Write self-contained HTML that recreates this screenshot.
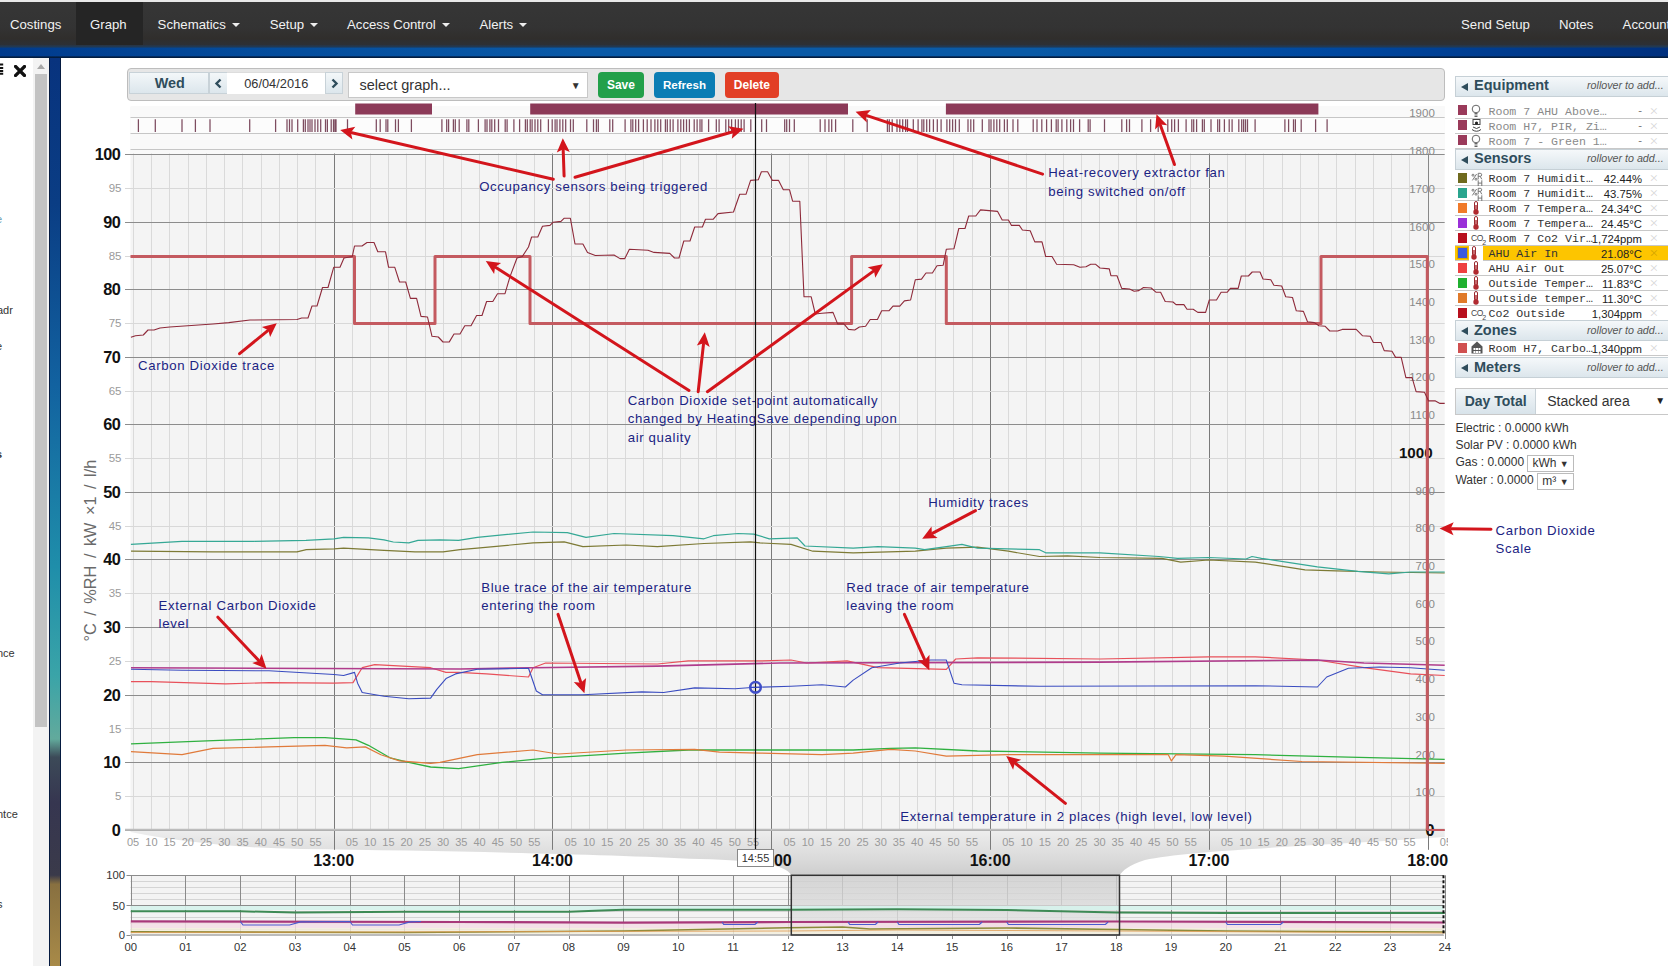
<!DOCTYPE html>
<html><head><meta charset="utf-8">
<style>
*{box-sizing:border-box}
html,body{margin:0;padding:0;width:1668px;height:966px;overflow:hidden;background:#fff;font-family:"Liberation Sans",sans-serif}
.abs{position:absolute}
#top{position:absolute;left:0;top:0;width:1668px;height:2px;background:#e9e9e9}
#nav{position:absolute;left:0;top:2px;width:1668px;height:43px;background:linear-gradient(#363636,#333 60%,#302e2c 85%,#2c3036)}
#nav .it{position:absolute;top:0;height:43px;line-height:45px;color:#f2f2f2;font-size:13.2px;white-space:nowrap}
#nav .act{background:#252525}
.caret{display:inline-block;width:0;height:0;border-left:4px solid transparent;border-right:4px solid transparent;border-top:4px solid #eee;vertical-align:middle;margin-left:6px;margin-top:-2px}
#stripe{position:absolute;left:0;top:45px;width:1668px;height:13px;background:linear-gradient(to bottom,#2a3440 0,#1f3a58 16%,rgba(20,60,110,0) 24%,rgba(0,0,0,0) 84%,#04224c 90%,#001a38 100%),linear-gradient(to right,#003a8c 0,#044c9c 15%,#0a5aa8 35%,#0a5aa6 62%,#0048a0 80%,#00307e 100%)}
#lp{position:absolute;left:0;top:58px;width:33px;height:908px;background:#fff}
#sb{position:absolute;left:33px;top:58px;width:15.5px;height:908px;background:#f3f3f3}
#thumb{position:absolute;left:35px;top:74px;width:12px;height:653px;background:#c3c3c3}
#strip{position:absolute;left:48.5px;top:58px;width:12.5px;height:908px;border-left:1.2px solid #051a40;border-right:1.2px solid #051a40;background:linear-gradient(#08337e 0%,#0a3d84 16%,#1262a0 36%,#1f8eaa 56%,#3aa4a8 68%,#62aa9c 75%,#3c4a58 77%,#363650 82%,#3a3a4a 90%,#887040 91%,#a88a48 100%)}
#main{position:absolute;left:61px;top:58px;width:1607px;height:908px;background:#fff;border-top-left-radius:6px}
.lt{position:absolute;left:0;font-size:11px;color:#333;white-space:nowrap}
#tb{position:absolute;left:126.5px;top:68.3px;width:1318px;height:32.8px;background:#e6e6e6;border:1px solid #bdbdbd;border-radius:4px}
.btn{position:absolute;top:71.5px;height:26.5px;border-radius:4px;color:#fff;font-weight:bold;font-size:12px;text-align:center;line-height:26px}
.gb{position:absolute;top:71.7px;height:22.5px;background:linear-gradient(#f3f7f9,#dce6ec);border:1px solid #c8d2d8;color:#2f4d5c}
svg text{font-family:"Liberation Sans",sans-serif}
.ymaj{font-size:16.3px;font-weight:bold;fill:#111;letter-spacing:-0.6px}
.ymin{font-size:11.5px;fill:#9a9a9a}
.rmin{font-size:11.5px;fill:#8a8a8a}
.ytitle{font-size:16.3px;fill:#6a6a6a}
.xmin{font-size:11px;fill:#9a9a9a}
.xmaj{font-size:16px;font-weight:bold;fill:#111}
.tip{font-size:11px;fill:#333}
.nx{font-size:11.3px;fill:#333}
.ann{font-size:13.2px;letter-spacing:0.65px;fill:#1b2383}
.hdr{position:absolute;left:1455px;width:213px;height:21px;background:linear-gradient(#f5f8fa,#dce6ec);border:1px solid #c6d0d6;border-right:none}
.hdr .tri{position:absolute;left:5px;top:6px;width:0;height:0;border-top:4.5px solid transparent;border-bottom:4.5px solid transparent;border-right:7px solid #2f4d5c}
.hdr .ht{position:absolute;left:18px;top:-0.5px;font-size:14.5px;font-weight:bold;color:#2f4d5c;line-height:18px}
.hdr .ro{position:absolute;left:131px;top:1.8px;font-size:10.7px;font-style:italic;color:#555;line-height:14px}
.row{position:absolute;left:1455px;width:213px;height:15px;border-bottom:1px solid #c8c8c8}
.row .sw{position:absolute;left:2.8px;top:1.8px;width:9.3px;height:9.6px}
.row .ic{position:absolute;left:16px;top:0px;width:14px;height:15px;line-height:0}
.row .nm{position:absolute;left:33.5px;top:1px;font-family:"Liberation Mono",monospace;font-size:11.6px;line-height:14px;color:#333;white-space:nowrap}
.row .vl{position:absolute;right:26px;top:1px;font-size:11.3px;line-height:14px;color:#222;white-space:nowrap}
.row .x{position:absolute;left:194.5px;top:-1px;font-size:15px;line-height:16px;color:rgba(0,0,0,0.14)}
.row.dis .nm{color:#8a8a8a}
.row.dis .vl{color:#777}
.row.hl{background:#fdc500}
.row.hl .sw{outline:1px solid #d8a800}
.row.hl .ic{background:#fff;left:14px;width:14px}
.rh{position:absolute;display:block;font-size:9px;color:#777;line-height:9px;top:2px;left:1px;width:14px;height:13px}
.co2i{display:inline-block;font-size:8.5px;color:#444;line-height:12px;margin-top:1px;letter-spacing:-0.3px;width:15px;white-space:nowrap}
.mt{position:absolute;left:1455.4px;font-size:12px;color:#333;white-space:nowrap}
.sel{position:absolute;height:17px;border:1px solid #bbb;background:#fff;font-size:12px;color:#333;line-height:15px;padding-left:4px;white-space:nowrap}
</style></head><body>
<div id="top"></div>
<div id="nav">
 <div class="it" style="left:10px">Costings</div>
 <div class="it act" style="left:76px;width:67px;padding-left:14px">Graph</div>
 <div class="it" style="left:157.6px">Schematics<span class="caret"></span></div>
 <div class="it" style="left:269.7px">Setup<span class="caret"></span></div>
 <div class="it" style="left:347px">Access Control<span class="caret"></span></div>
 <div class="it" style="left:479.5px">Alerts<span class="caret"></span></div>
 <div class="it" style="left:1461px">Send Setup</div>
 <div class="it" style="left:1559px">Notes</div>
 <div class="it" style="left:1622.6px">Accounts</div>
</div>
<div id="stripe"></div>
<div id="lp">
 <svg style="position:absolute;left:0;top:5px" width="4" height="12" viewBox="0 0 4 12"><path d="M0,1.6H3.2M0,4.9H3.2M0,7.9H3.2M0,10.8H3.2" stroke="#111" stroke-width="2"/></svg>
 <svg style="position:absolute;left:14px;top:7px" width="12" height="12" viewBox="0 0 12 12"><path d="M1.5,1.5 L10.5,10.5 M10.5,1.5 L1.5,10.5" stroke="#111" stroke-width="3.3" stroke-linecap="square"/></svg>
 <div class="lt" style="top:155px;left:-4px;color:#6a9fb5">e</div>
 <div class="lt" style="top:246px;left:-3px">adr</div>
 <div class="lt" style="top:282px;left:-4px">e</div>
 <div class="lt" style="top:390px;left:-4px;font-weight:bold">s</div>
 <div class="lt" style="top:589px;left:-3px">nce</div>
 <div class="lt" style="top:750px;left:-3px">ntce</div>
 <div class="lt" style="top:840px;left:-3px">s</div>
</div>
<div id="sb"><div style="position:absolute;left:4px;top:6px;width:0;height:0;border-left:4.5px solid transparent;border-right:4.5px solid transparent;border-bottom:5px solid #a8a8a8"></div></div>
<div id="thumb"></div>
<div id="strip"></div>
<div id="main"></div>
<div id="tb"></div>
<div class="gb" style="left:129.2px;width:80px;font-weight:bold;font-size:14.4px;text-align:center;line-height:21px;padding-left:1px">Wed</div>
<div class="gb" style="left:209.3px;width:18.5px"><svg width="17" height="21" style="position:absolute;left:0;top:0"><path d="M10.5,6.5 L6.5,10.5 L10.5,14.5" fill="none" stroke="#2f4d5c" stroke-width="2.4"/></svg></div>
<div style="position:absolute;left:227.4px;top:71.7px;width:97.7px;height:22.5px;background:#fff;border-top:1px solid #ddd;font-size:12.8px;color:#333;text-align:center;line-height:21px">06/04/2016</div>
<div class="gb" style="left:325.1px;width:17.5px"><svg width="16" height="21" style="position:absolute;left:0;top:0"><path d="M6.5,6.5 L10.5,10.5 L6.5,14.5" fill="none" stroke="#2f4d5c" stroke-width="2.4"/></svg></div>
<div style="position:absolute;left:348.4px;top:71.7px;width:239.2px;height:26px;background:#fff;border:1px solid #c8c8c8;font-size:14.5px;color:#333;line-height:25px;padding-left:10px">select graph...<span style="position:absolute;right:6px;top:0;font-size:10px">▼</span></div>
<div class="btn" style="left:598.2px;width:45.5px;background:#22a04a">Save</div>
<div class="btn" style="left:654.1px;width:60.8px;background:#0b7db4;font-size:11.6px">Refresh</div>
<div class="btn" style="left:724.9px;width:53.9px;background:#e23f26">Delete</div>
<svg class="abs" style="left:0;top:0" width="1668" height="966" viewBox="0 0 1668 966">
<defs>
<linearGradient id="fun" x1="0" y1="0" x2="0" y2="1">
 <stop offset="0" stop-color="#eeeeee"/><stop offset="0.3" stop-color="#e4e4e4"/><stop offset="0.65" stop-color="#dadada"/><stop offset="1" stop-color="#cecece"/>
</linearGradient>
<linearGradient id="sel" x1="0" y1="0" x2="0" y2="1">
 <stop offset="0" stop-color="#cdcdcd"/><stop offset="1" stop-color="#e6e6e6"/>
</linearGradient>
<clipPath id="xclip" clipPathUnits="userSpaceOnUse"><rect x="100" y="830" width="1348" height="30"/></clipPath>
<marker id="ah" viewBox="0 0 10 10" refX="9" refY="5" markerWidth="5" markerHeight="4.2" orient="auto" markerUnits="strokeWidth">
 <path d="M0,0 L10,5 L0,10 z" fill="#d9141b"/>
</marker>
</defs>
<path d="M130.5,829.8 L1444.7,829.8 L1444.7,837 C1320,846 1190,850 1145,860 C1128,865 1123,871 1119.5,875 L791.3,875 C786,867 772,861 700,859 C600,854 450,851 300,849 C240,848 180,842 130.5,832 Z" fill="url(#fun)"/>
<rect x="130.5" y="106.5" width="1314.2" height="723.3" fill="#f4f4f4"/>
<rect x="130.5" y="106.5" width="1314.2" height="47.5" fill="#f9f9f9"/>
<rect x="130.5" y="117.5" width="1314.2" height="16" fill="#fcfcfc"/>
<line x1="130.5" y1="117.5" x2="1444.7" y2="117.5" stroke="#c6c6c6" stroke-width="1"/>
<line x1="130.5" y1="133.5" x2="1444.7" y2="133.5" stroke="#c6c6c6" stroke-width="1"/>
<line x1="130.5" y1="149.5" x2="1444.7" y2="149.5" stroke="#c6c6c6" stroke-width="1"/>
<line x1="133.5" y1="153.5" x2="133.5" y2="829.8" stroke="#dadada" stroke-width="1"/>
<line x1="151.5" y1="153.5" x2="151.5" y2="829.8" stroke="#dadada" stroke-width="1"/>
<line x1="169.5" y1="153.5" x2="169.5" y2="829.8" stroke="#dadada" stroke-width="1"/>
<line x1="188.5" y1="153.5" x2="188.5" y2="829.8" stroke="#dadada" stroke-width="1"/>
<line x1="206.5" y1="153.5" x2="206.5" y2="829.8" stroke="#dadada" stroke-width="1"/>
<line x1="224.5" y1="153.5" x2="224.5" y2="829.8" stroke="#dadada" stroke-width="1"/>
<line x1="242.5" y1="153.5" x2="242.5" y2="829.8" stroke="#dadada" stroke-width="1"/>
<line x1="261.5" y1="153.5" x2="261.5" y2="829.8" stroke="#dadada" stroke-width="1"/>
<line x1="279.5" y1="153.5" x2="279.5" y2="829.8" stroke="#dadada" stroke-width="1"/>
<line x1="297.5" y1="153.5" x2="297.5" y2="829.8" stroke="#dadada" stroke-width="1"/>
<line x1="315.5" y1="153.5" x2="315.5" y2="829.8" stroke="#dadada" stroke-width="1"/>
<line x1="334.5" y1="153.5" x2="334.5" y2="849.8" stroke="#7a7a7a" stroke-width="1"/>
<line x1="352.5" y1="153.5" x2="352.5" y2="829.8" stroke="#dadada" stroke-width="1"/>
<line x1="370.5" y1="153.5" x2="370.5" y2="829.8" stroke="#dadada" stroke-width="1"/>
<line x1="388.5" y1="153.5" x2="388.5" y2="829.8" stroke="#dadada" stroke-width="1"/>
<line x1="406.5" y1="153.5" x2="406.5" y2="829.8" stroke="#dadada" stroke-width="1"/>
<line x1="425.5" y1="153.5" x2="425.5" y2="829.8" stroke="#dadada" stroke-width="1"/>
<line x1="443.5" y1="153.5" x2="443.5" y2="829.8" stroke="#dadada" stroke-width="1"/>
<line x1="461.5" y1="153.5" x2="461.5" y2="829.8" stroke="#dadada" stroke-width="1"/>
<line x1="479.5" y1="153.5" x2="479.5" y2="829.8" stroke="#dadada" stroke-width="1"/>
<line x1="498.5" y1="153.5" x2="498.5" y2="829.8" stroke="#dadada" stroke-width="1"/>
<line x1="516.5" y1="153.5" x2="516.5" y2="829.8" stroke="#dadada" stroke-width="1"/>
<line x1="534.5" y1="153.5" x2="534.5" y2="829.8" stroke="#dadada" stroke-width="1"/>
<line x1="552.5" y1="153.5" x2="552.5" y2="849.8" stroke="#7a7a7a" stroke-width="1"/>
<line x1="571.5" y1="153.5" x2="571.5" y2="829.8" stroke="#dadada" stroke-width="1"/>
<line x1="589.5" y1="153.5" x2="589.5" y2="829.8" stroke="#dadada" stroke-width="1"/>
<line x1="607.5" y1="153.5" x2="607.5" y2="829.8" stroke="#dadada" stroke-width="1"/>
<line x1="625.5" y1="153.5" x2="625.5" y2="829.8" stroke="#dadada" stroke-width="1"/>
<line x1="643.5" y1="153.5" x2="643.5" y2="829.8" stroke="#dadada" stroke-width="1"/>
<line x1="662.5" y1="153.5" x2="662.5" y2="829.8" stroke="#dadada" stroke-width="1"/>
<line x1="680.5" y1="153.5" x2="680.5" y2="829.8" stroke="#dadada" stroke-width="1"/>
<line x1="698.5" y1="153.5" x2="698.5" y2="829.8" stroke="#dadada" stroke-width="1"/>
<line x1="716.5" y1="153.5" x2="716.5" y2="829.8" stroke="#dadada" stroke-width="1"/>
<line x1="735.5" y1="153.5" x2="735.5" y2="829.8" stroke="#dadada" stroke-width="1"/>
<line x1="753.5" y1="153.5" x2="753.5" y2="829.8" stroke="#dadada" stroke-width="1"/>
<line x1="771.5" y1="153.5" x2="771.5" y2="849.8" stroke="#7a7a7a" stroke-width="1"/>
<line x1="789.5" y1="153.5" x2="789.5" y2="829.8" stroke="#dadada" stroke-width="1"/>
<line x1="808.5" y1="153.5" x2="808.5" y2="829.8" stroke="#dadada" stroke-width="1"/>
<line x1="826.5" y1="153.5" x2="826.5" y2="829.8" stroke="#dadada" stroke-width="1"/>
<line x1="844.5" y1="153.5" x2="844.5" y2="829.8" stroke="#dadada" stroke-width="1"/>
<line x1="862.5" y1="153.5" x2="862.5" y2="829.8" stroke="#dadada" stroke-width="1"/>
<line x1="881.5" y1="153.5" x2="881.5" y2="829.8" stroke="#dadada" stroke-width="1"/>
<line x1="899.5" y1="153.5" x2="899.5" y2="829.8" stroke="#dadada" stroke-width="1"/>
<line x1="917.5" y1="153.5" x2="917.5" y2="829.8" stroke="#dadada" stroke-width="1"/>
<line x1="935.5" y1="153.5" x2="935.5" y2="829.8" stroke="#dadada" stroke-width="1"/>
<line x1="953.5" y1="153.5" x2="953.5" y2="829.8" stroke="#dadada" stroke-width="1"/>
<line x1="972.5" y1="153.5" x2="972.5" y2="829.8" stroke="#dadada" stroke-width="1"/>
<line x1="990.5" y1="153.5" x2="990.5" y2="849.8" stroke="#7a7a7a" stroke-width="1"/>
<line x1="1008.5" y1="153.5" x2="1008.5" y2="829.8" stroke="#dadada" stroke-width="1"/>
<line x1="1026.5" y1="153.5" x2="1026.5" y2="829.8" stroke="#dadada" stroke-width="1"/>
<line x1="1045.5" y1="153.5" x2="1045.5" y2="829.8" stroke="#dadada" stroke-width="1"/>
<line x1="1063.5" y1="153.5" x2="1063.5" y2="829.8" stroke="#dadada" stroke-width="1"/>
<line x1="1081.5" y1="153.5" x2="1081.5" y2="829.8" stroke="#dadada" stroke-width="1"/>
<line x1="1099.5" y1="153.5" x2="1099.5" y2="829.8" stroke="#dadada" stroke-width="1"/>
<line x1="1118.5" y1="153.5" x2="1118.5" y2="829.8" stroke="#dadada" stroke-width="1"/>
<line x1="1136.5" y1="153.5" x2="1136.5" y2="829.8" stroke="#dadada" stroke-width="1"/>
<line x1="1154.5" y1="153.5" x2="1154.5" y2="829.8" stroke="#dadada" stroke-width="1"/>
<line x1="1172.5" y1="153.5" x2="1172.5" y2="829.8" stroke="#dadada" stroke-width="1"/>
<line x1="1190.5" y1="153.5" x2="1190.5" y2="829.8" stroke="#dadada" stroke-width="1"/>
<line x1="1209.5" y1="153.5" x2="1209.5" y2="849.8" stroke="#7a7a7a" stroke-width="1"/>
<line x1="1227.5" y1="153.5" x2="1227.5" y2="829.8" stroke="#dadada" stroke-width="1"/>
<line x1="1245.5" y1="153.5" x2="1245.5" y2="829.8" stroke="#dadada" stroke-width="1"/>
<line x1="1263.5" y1="153.5" x2="1263.5" y2="829.8" stroke="#dadada" stroke-width="1"/>
<line x1="1282.5" y1="153.5" x2="1282.5" y2="829.8" stroke="#dadada" stroke-width="1"/>
<line x1="1300.5" y1="153.5" x2="1300.5" y2="829.8" stroke="#dadada" stroke-width="1"/>
<line x1="1318.5" y1="153.5" x2="1318.5" y2="829.8" stroke="#dadada" stroke-width="1"/>
<line x1="1336.5" y1="153.5" x2="1336.5" y2="829.8" stroke="#dadada" stroke-width="1"/>
<line x1="1355.5" y1="153.5" x2="1355.5" y2="829.8" stroke="#dadada" stroke-width="1"/>
<line x1="1373.5" y1="153.5" x2="1373.5" y2="829.8" stroke="#dadada" stroke-width="1"/>
<line x1="1391.5" y1="153.5" x2="1391.5" y2="829.8" stroke="#dadada" stroke-width="1"/>
<line x1="1409.5" y1="153.5" x2="1409.5" y2="829.8" stroke="#dadada" stroke-width="1"/>
<line x1="1428.5" y1="153.5" x2="1428.5" y2="849.8" stroke="#7a7a7a" stroke-width="1"/>
<line x1="125" y1="830.5" x2="1444.7" y2="830.5" stroke="#8c8c8c" stroke-width="1"/>
<line x1="125" y1="796.5" x2="1444.7" y2="796.5" stroke="#d8d8d8" stroke-width="1"/>
<line x1="125" y1="762.5" x2="1444.7" y2="762.5" stroke="#8c8c8c" stroke-width="1"/>
<line x1="125" y1="728.5" x2="1444.7" y2="728.5" stroke="#d8d8d8" stroke-width="1"/>
<line x1="125" y1="695.5" x2="1444.7" y2="695.5" stroke="#8c8c8c" stroke-width="1"/>
<line x1="125" y1="661.5" x2="1444.7" y2="661.5" stroke="#d8d8d8" stroke-width="1"/>
<line x1="125" y1="627.5" x2="1444.7" y2="627.5" stroke="#8c8c8c" stroke-width="1"/>
<line x1="125" y1="593.5" x2="1444.7" y2="593.5" stroke="#d8d8d8" stroke-width="1"/>
<line x1="125" y1="559.5" x2="1444.7" y2="559.5" stroke="#8c8c8c" stroke-width="1"/>
<line x1="125" y1="526.5" x2="1444.7" y2="526.5" stroke="#d8d8d8" stroke-width="1"/>
<line x1="125" y1="492.5" x2="1444.7" y2="492.5" stroke="#8c8c8c" stroke-width="1"/>
<line x1="125" y1="458.5" x2="1444.7" y2="458.5" stroke="#d8d8d8" stroke-width="1"/>
<line x1="125" y1="424.5" x2="1444.7" y2="424.5" stroke="#8c8c8c" stroke-width="1"/>
<line x1="125" y1="391.5" x2="1444.7" y2="391.5" stroke="#d8d8d8" stroke-width="1"/>
<line x1="125" y1="357.5" x2="1444.7" y2="357.5" stroke="#8c8c8c" stroke-width="1"/>
<line x1="125" y1="323.5" x2="1444.7" y2="323.5" stroke="#d8d8d8" stroke-width="1"/>
<line x1="125" y1="289.5" x2="1444.7" y2="289.5" stroke="#8c8c8c" stroke-width="1"/>
<line x1="125" y1="256.5" x2="1444.7" y2="256.5" stroke="#d8d8d8" stroke-width="1"/>
<line x1="125" y1="222.5" x2="1444.7" y2="222.5" stroke="#8c8c8c" stroke-width="1"/>
<line x1="125" y1="188.5" x2="1444.7" y2="188.5" stroke="#d8d8d8" stroke-width="1"/>
<line x1="125" y1="154.5" x2="1444.7" y2="154.5" stroke="#8c8c8c" stroke-width="1"/>
<line x1="125" y1="829.8" x2="1444.7" y2="829.8" stroke="#bdbdbd" stroke-width="2"/>
<line x1="1428.5" y1="154" x2="1428.5" y2="829.8" stroke="#888" stroke-width="1"/>
<text x="120.1" y="835.6" text-anchor="end" class="ymaj">0</text>
<text x="121.5" y="800.0" text-anchor="end" class="ymin">5</text>
<text x="120.1" y="768.1" text-anchor="end" class="ymaj">10</text>
<text x="121.5" y="732.5" text-anchor="end" class="ymin">15</text>
<text x="120.1" y="700.5" text-anchor="end" class="ymaj">20</text>
<text x="121.5" y="664.9" text-anchor="end" class="ymin">25</text>
<text x="120.1" y="633.0" text-anchor="end" class="ymaj">30</text>
<text x="121.5" y="597.4" text-anchor="end" class="ymin">35</text>
<text x="120.1" y="565.4" text-anchor="end" class="ymaj">40</text>
<text x="121.5" y="529.9" text-anchor="end" class="ymin">45</text>
<text x="120.1" y="497.9" text-anchor="end" class="ymaj">50</text>
<text x="121.5" y="462.3" text-anchor="end" class="ymin">55</text>
<text x="120.1" y="430.4" text-anchor="end" class="ymaj">60</text>
<text x="121.5" y="394.8" text-anchor="end" class="ymin">65</text>
<text x="120.1" y="362.8" text-anchor="end" class="ymaj">70</text>
<text x="121.5" y="327.2" text-anchor="end" class="ymin">75</text>
<text x="120.1" y="295.3" text-anchor="end" class="ymaj">80</text>
<text x="121.5" y="259.7" text-anchor="end" class="ymin">85</text>
<text x="120.1" y="227.7" text-anchor="end" class="ymaj">90</text>
<text x="121.5" y="192.2" text-anchor="end" class="ymin">95</text>
<text x="120.1" y="160.2" text-anchor="end" class="ymaj">100</text>
<text transform="translate(95.5,550.6) rotate(-90)" text-anchor="middle" class="ytitle" style="word-spacing:3px">°C / %RH / kW ×1 / l/h</text>
<text x="1434.8" y="796.3" text-anchor="end" class="rmin">100</text>
<text x="1434.8" y="758.6" text-anchor="end" class="rmin">200</text>
<text x="1434.8" y="720.8" text-anchor="end" class="rmin">300</text>
<text x="1434.8" y="683.1" text-anchor="end" class="rmin">400</text>
<text x="1434.8" y="645.4" text-anchor="end" class="rmin">500</text>
<text x="1434.8" y="607.7" text-anchor="end" class="rmin">600</text>
<text x="1434.8" y="570.0" text-anchor="end" class="rmin">700</text>
<text x="1434.8" y="532.2" text-anchor="end" class="rmin">800</text>
<text x="1434.8" y="494.5" text-anchor="end" class="rmin">900</text>
<text x="1432.7" y="458.4" text-anchor="end" class="ymaj" style="font-size:15.2px;letter-spacing:0">1000</text>
<text x="1434.8" y="419.1" text-anchor="end" class="rmin">1100</text>
<text x="1434.8" y="381.4" text-anchor="end" class="rmin">1200</text>
<text x="1434.8" y="343.6" text-anchor="end" class="rmin">1300</text>
<text x="1434.8" y="305.9" text-anchor="end" class="rmin">1400</text>
<text x="1434.8" y="268.2" text-anchor="end" class="rmin">1500</text>
<text x="1434.8" y="230.5" text-anchor="end" class="rmin">1600</text>
<text x="1434.8" y="192.8" text-anchor="end" class="rmin">1700</text>
<text x="1434.8" y="155.0" text-anchor="end" class="rmin">1800</text>
<text x="1434.8" y="117.3" text-anchor="end" class="rmin">1900</text>
<text x="1434" y="836" text-anchor="end" class="ymaj">0</text>
<text x="133.1" y="845.8" text-anchor="middle" class="xmin" clip-path="url(#xclip)">05</text>
<text x="151.4" y="845.8" text-anchor="middle" class="xmin" clip-path="url(#xclip)">10</text>
<text x="169.6" y="845.8" text-anchor="middle" class="xmin" clip-path="url(#xclip)">15</text>
<text x="187.8" y="845.8" text-anchor="middle" class="xmin" clip-path="url(#xclip)">20</text>
<text x="206.1" y="845.8" text-anchor="middle" class="xmin" clip-path="url(#xclip)">25</text>
<text x="224.3" y="845.8" text-anchor="middle" class="xmin" clip-path="url(#xclip)">30</text>
<text x="242.5" y="845.8" text-anchor="middle" class="xmin" clip-path="url(#xclip)">35</text>
<text x="260.8" y="845.8" text-anchor="middle" class="xmin" clip-path="url(#xclip)">40</text>
<text x="279.0" y="845.8" text-anchor="middle" class="xmin" clip-path="url(#xclip)">45</text>
<text x="297.2" y="845.8" text-anchor="middle" class="xmin" clip-path="url(#xclip)">50</text>
<text x="315.5" y="845.8" text-anchor="middle" class="xmin" clip-path="url(#xclip)">55</text>
<text x="351.9" y="845.8" text-anchor="middle" class="xmin" clip-path="url(#xclip)">05</text>
<text x="370.2" y="845.8" text-anchor="middle" class="xmin" clip-path="url(#xclip)">10</text>
<text x="388.4" y="845.8" text-anchor="middle" class="xmin" clip-path="url(#xclip)">15</text>
<text x="406.6" y="845.8" text-anchor="middle" class="xmin" clip-path="url(#xclip)">20</text>
<text x="424.9" y="845.8" text-anchor="middle" class="xmin" clip-path="url(#xclip)">25</text>
<text x="443.1" y="845.8" text-anchor="middle" class="xmin" clip-path="url(#xclip)">30</text>
<text x="461.3" y="845.8" text-anchor="middle" class="xmin" clip-path="url(#xclip)">35</text>
<text x="479.6" y="845.8" text-anchor="middle" class="xmin" clip-path="url(#xclip)">40</text>
<text x="497.8" y="845.8" text-anchor="middle" class="xmin" clip-path="url(#xclip)">45</text>
<text x="516.0" y="845.8" text-anchor="middle" class="xmin" clip-path="url(#xclip)">50</text>
<text x="534.3" y="845.8" text-anchor="middle" class="xmin" clip-path="url(#xclip)">55</text>
<text x="570.7" y="845.8" text-anchor="middle" class="xmin" clip-path="url(#xclip)">05</text>
<text x="589.0" y="845.8" text-anchor="middle" class="xmin" clip-path="url(#xclip)">10</text>
<text x="607.2" y="845.8" text-anchor="middle" class="xmin" clip-path="url(#xclip)">15</text>
<text x="625.4" y="845.8" text-anchor="middle" class="xmin" clip-path="url(#xclip)">20</text>
<text x="643.7" y="845.8" text-anchor="middle" class="xmin" clip-path="url(#xclip)">25</text>
<text x="661.9" y="845.8" text-anchor="middle" class="xmin" clip-path="url(#xclip)">30</text>
<text x="680.1" y="845.8" text-anchor="middle" class="xmin" clip-path="url(#xclip)">35</text>
<text x="698.4" y="845.8" text-anchor="middle" class="xmin" clip-path="url(#xclip)">40</text>
<text x="716.6" y="845.8" text-anchor="middle" class="xmin" clip-path="url(#xclip)">45</text>
<text x="734.8" y="845.8" text-anchor="middle" class="xmin" clip-path="url(#xclip)">50</text>
<text x="753.1" y="845.8" text-anchor="middle" class="xmin" clip-path="url(#xclip)">55</text>
<text x="789.5" y="845.8" text-anchor="middle" class="xmin" clip-path="url(#xclip)">05</text>
<text x="807.8" y="845.8" text-anchor="middle" class="xmin" clip-path="url(#xclip)">10</text>
<text x="826.0" y="845.8" text-anchor="middle" class="xmin" clip-path="url(#xclip)">15</text>
<text x="844.2" y="845.8" text-anchor="middle" class="xmin" clip-path="url(#xclip)">20</text>
<text x="862.5" y="845.8" text-anchor="middle" class="xmin" clip-path="url(#xclip)">25</text>
<text x="880.7" y="845.8" text-anchor="middle" class="xmin" clip-path="url(#xclip)">30</text>
<text x="898.9" y="845.8" text-anchor="middle" class="xmin" clip-path="url(#xclip)">35</text>
<text x="917.2" y="845.8" text-anchor="middle" class="xmin" clip-path="url(#xclip)">40</text>
<text x="935.4" y="845.8" text-anchor="middle" class="xmin" clip-path="url(#xclip)">45</text>
<text x="953.6" y="845.8" text-anchor="middle" class="xmin" clip-path="url(#xclip)">50</text>
<text x="971.9" y="845.8" text-anchor="middle" class="xmin" clip-path="url(#xclip)">55</text>
<text x="1008.3" y="845.8" text-anchor="middle" class="xmin" clip-path="url(#xclip)">05</text>
<text x="1026.6" y="845.8" text-anchor="middle" class="xmin" clip-path="url(#xclip)">10</text>
<text x="1044.8" y="845.8" text-anchor="middle" class="xmin" clip-path="url(#xclip)">15</text>
<text x="1063.0" y="845.8" text-anchor="middle" class="xmin" clip-path="url(#xclip)">20</text>
<text x="1081.3" y="845.8" text-anchor="middle" class="xmin" clip-path="url(#xclip)">25</text>
<text x="1099.5" y="845.8" text-anchor="middle" class="xmin" clip-path="url(#xclip)">30</text>
<text x="1117.7" y="845.8" text-anchor="middle" class="xmin" clip-path="url(#xclip)">35</text>
<text x="1136.0" y="845.8" text-anchor="middle" class="xmin" clip-path="url(#xclip)">40</text>
<text x="1154.2" y="845.8" text-anchor="middle" class="xmin" clip-path="url(#xclip)">45</text>
<text x="1172.4" y="845.8" text-anchor="middle" class="xmin" clip-path="url(#xclip)">50</text>
<text x="1190.7" y="845.8" text-anchor="middle" class="xmin" clip-path="url(#xclip)">55</text>
<text x="1227.1" y="845.8" text-anchor="middle" class="xmin" clip-path="url(#xclip)">05</text>
<text x="1245.4" y="845.8" text-anchor="middle" class="xmin" clip-path="url(#xclip)">10</text>
<text x="1263.6" y="845.8" text-anchor="middle" class="xmin" clip-path="url(#xclip)">15</text>
<text x="1281.8" y="845.8" text-anchor="middle" class="xmin" clip-path="url(#xclip)">20</text>
<text x="1300.1" y="845.8" text-anchor="middle" class="xmin" clip-path="url(#xclip)">25</text>
<text x="1318.3" y="845.8" text-anchor="middle" class="xmin" clip-path="url(#xclip)">30</text>
<text x="1336.5" y="845.8" text-anchor="middle" class="xmin" clip-path="url(#xclip)">35</text>
<text x="1354.8" y="845.8" text-anchor="middle" class="xmin" clip-path="url(#xclip)">40</text>
<text x="1373.0" y="845.8" text-anchor="middle" class="xmin" clip-path="url(#xclip)">45</text>
<text x="1391.2" y="845.8" text-anchor="middle" class="xmin" clip-path="url(#xclip)">50</text>
<text x="1409.5" y="845.8" text-anchor="middle" class="xmin" clip-path="url(#xclip)">55</text>
<text x="1445.9" y="845.8" text-anchor="middle" class="xmin" clip-path="url(#xclip)">05</text>
<text x="333.7" y="865.6" text-anchor="middle" class="xmaj">13:00</text>
<text x="552.5" y="865.6" text-anchor="middle" class="xmaj">14:00</text>
<text x="771.3" y="865.6" text-anchor="middle" class="xmaj">15:00</text>
<text x="990.1" y="865.6" text-anchor="middle" class="xmaj">16:00</text>
<text x="1208.9" y="865.6" text-anchor="middle" class="xmaj">17:00</text>
<text x="1427.7" y="865.6" text-anchor="middle" class="xmaj">18:00</text>
<rect x="355.2" y="103.5" width="76.8" height="11" fill="#8c3a58"/>
<rect x="530.2" y="103.5" width="317.8" height="11" fill="#8c3a58"/>
<rect x="945.9" y="103.5" width="372.5" height="11" fill="#8c3a58"/>
<path d="M138.4,119.3V132 M155.3,119.3V132 M182.0,119.3V132 M195.4,119.3V132 M210.0,119.3V132 M249.7,119.3V132 M275.6,119.3V132 M287.0,119.3V132 M289.5,119.3V132 M292.0,119.3V132 M297.7,119.3V132 M303.4,119.3V132 M305.3,119.3V132 M308.0,119.3V132 M310.0,119.3V132 M312.0,119.3V132 M315.0,119.3V132 M317.8,119.3V132 M320.7,119.3V132 M325.5,119.3V132 M327.4,119.3V132 M331.2,119.3V132 M333.5,119.3V132 M335.0,119.3V132 M336.0,119.3V132 M347.5,119.3V132 M376.3,119.3V132 M380.2,119.3V132 M386.0,119.3V132 M387.8,119.3V132 M395.5,119.3V132 M398.4,119.3V132 M411.4,119.3V132 M441.9,119.3V132 M446.7,119.3V132 M448.6,119.3V132 M453.4,119.3V132 M455.3,119.3V132 M459.2,119.3V132 M466.9,119.3V132 M468.8,119.3V132 M478.4,119.3V132 M485.1,119.3V132 M487.0,119.3V132 M489.9,119.3V132 M491.8,119.3V132 M494.7,119.3V132 M498.5,119.3V132 M505.2,119.3V132 M507.1,119.3V132 M513.9,119.3V132 M519.6,119.3V132 M525.4,119.3V132 M527.3,119.3V132 M530.2,119.3V132 M532.1,119.3V132 M535.0,119.3V132 M537.8,119.3V132 M540.7,119.3V132 M548.4,119.3V132 M552.2,119.3V132 M555.1,119.3V132 M557.0,119.3V132 M559.9,119.3V132 M562.8,119.3V132 M565.7,119.3V132 M570.5,119.3V132 M573.3,119.3V132 M586.8,119.3V132 M593.5,119.3V132 M596.4,119.3V132 M598.3,119.3V132 M609.8,119.3V132 M612.7,119.3V132 M625.1,119.3V132 M630.9,119.3V132 M632.8,119.3V132 M635.7,119.3V132 M638.6,119.3V132 M643.4,119.3V132 M647.2,119.3V132 M651.0,119.3V132 M654.9,119.3V132 M657.8,119.3V132 M660.7,119.3V132 M665.4,119.3V132 M667.3,119.3V132 M670.2,119.3V132 M673.1,119.3V132 M677.9,119.3V132 M680.8,119.3V132 M683.6,119.3V132 M686.5,119.3V132 M689.4,119.3V132 M694.2,119.3V132 M697.1,119.3V132 M700.0,119.3V132 M701.9,119.3V132 M708.6,119.3V132 M716.3,119.3V132 M719.1,119.3V132 M725.8,119.3V132 M728.7,119.3V132 M731.6,119.3V132 M735.4,119.3V132 M738.3,119.3V132 M741.2,119.3V132 M744.1,119.3V132 M750.8,119.3V132 M761.7,119.3V132 M766.5,119.3V132 M784.7,119.3V132 M786.7,119.3V132 M789.5,119.3V132 M794.3,119.3V132 M820.2,119.3V132 M825.0,119.3V132 M828.9,119.3V132 M831.7,119.3V132 M835.6,119.3V132 M852.8,119.3V132 M867.2,119.3V132 M887.4,119.3V132 M889.3,119.3V132 M892.2,119.3V132 M897.0,119.3V132 M899.8,119.3V132 M902.7,119.3V132 M905.6,119.3V132 M907.5,119.3V132 M913.3,119.3V132 M918.1,119.3V132 M921.9,119.3V132 M923.8,119.3V132 M926.7,119.3V132 M929.6,119.3V132 M933.4,119.3V132 M937.3,119.3V132 M941.1,119.3V132 M946.9,119.3V132 M949.7,119.3V132 M952.6,119.3V132 M955.5,119.3V132 M959.3,119.3V132 M968.0,119.3V132 M970.8,119.3V132 M973.7,119.3V132 M982.3,119.3V132 M989.0,119.3V132 M991.0,119.3V132 M993.9,119.3V132 M996.8,119.3V132 M999.7,119.3V132 M1004.4,119.3V132 M1007.3,119.3V132 M1013.0,119.3V132 M1017.8,119.3V132 M1033.2,119.3V132 M1037.0,119.3V132 M1041.8,119.3V132 M1046.6,119.3V132 M1051.4,119.3V132 M1056.2,119.3V132 M1058.1,119.3V132 M1061.9,119.3V132 M1066.8,119.3V132 M1070.6,119.3V132 M1073.5,119.3V132 M1079.6,119.3V132 M1088.2,119.3V132 M1090.1,119.3V132 M1104.5,119.3V132 M1121.8,119.3V132 M1126.6,119.3V132 M1129.5,119.3V132 M1141.9,119.3V132 M1150.6,119.3V132 M1158.2,119.3V132 M1167.8,119.3V132 M1171.7,119.3V132 M1174.6,119.3V132 M1178.4,119.3V132 M1186.1,119.3V132 M1191.8,119.3V132 M1193.7,119.3V132 M1196.6,119.3V132 M1202.4,119.3V132 M1204.3,119.3V132 M1211.0,119.3V132 M1217.7,119.3V132 M1219.6,119.3V132 M1224.4,119.3V132 M1229.2,119.3V132 M1232.1,119.3V132 M1238.8,119.3V132 M1241.7,119.3V132 M1243.6,119.3V132 M1245.5,119.3V132 M1247.5,119.3V132 M1255.1,119.3V132 M1284.9,119.3V132 M1288.6,119.3V132 M1293.5,119.3V132 M1295.4,119.3V132 M1301.2,119.3V132 M1315.6,119.3V132 M1327.1,119.3V132" stroke="#70394f" stroke-width="1.25" opacity="0.9"/>
<g fill="none" stroke-linejoin="round">
<polyline points="131.0,551.2 213.0,551.9 297.0,551.9 306.3,549.7 334.0,548.8 343.6,548.1 384.0,550.3 415.0,551.9 443.0,551.9 460.0,549.7 477.3,548.1 533.0,542.9 564.2,541.9 582.9,546.6 626.3,545.0 657.4,546.6 704.0,543.5 750.6,541.9 760.0,542.9 791.0,544.4 812.8,551.2 853.2,552.8 915.3,551.2 946.3,548.1 977.4,547.2 1008.4,551.2 1039.5,556.5 1067.5,555.9 1100.0,557.5 1162.0,558.4 1180.7,562.1 1208.7,560.0 1255.3,562.1 1305.0,569.9 1336.0,570.8 1379.5,572.0 1444.7,573.0" stroke="#7d7a35" stroke-width="1.2"/>
<polyline points="130.9,544.4 182.0,541.3 253.5,541.3 306.0,540.4 334.0,538.8 343.6,537.3 368.4,537.9 384.0,539.8 393.3,542.0 408.8,542.9 418.0,540.4 440.0,539.8 458.6,540.4 477.3,537.3 533.0,532.0 567.3,532.6 586.0,537.3 614.0,533.5 673.0,535.7 704.0,538.8 713.3,535.7 738.0,533.5 753.7,534.2 769.3,538.8 797.3,537.9 805.0,546.0 853.2,548.1 878.0,546.6 915.3,548.1 924.6,549.7 946.3,546.6 961.9,544.4 977.4,548.1 1039.5,549.7 1045.7,552.8 1100.0,552.8 1159.0,556.5 1177.6,558.4 1208.7,557.5 1246.0,559.0 1252.0,556.5 1261.5,558.4 1317.4,566.8 1357.8,571.4 1388.8,573.9 1410.6,572.0 1444.7,572.0" stroke="#35a895" stroke-width="1.2"/>
<polyline points="131.0,743.8 213.0,740.7 294.0,737.6 325.0,737.6 356.0,739.8 368.4,745.3 390.0,757.8 408.8,762.4 430.6,767.0 458.6,768.6 502.0,762.4 548.7,757.8 626.3,753.1 688.4,750.0 853.2,750.0 890.4,748.4 915.3,747.8 977.4,751.0 1100.0,753.1 1255.3,754.7 1348.4,757.1 1444.7,759.3" stroke="#2fb040" stroke-width="1.3"/>
<polyline points="131.0,751.6 182.0,754.7 213.0,748.4 269.0,746.9 325.0,745.3 346.7,747.8 365.3,746.9 380.9,754.7 399.5,760.9 430.6,763.4 440.0,762.4 477.3,754.7 533.0,750.0 558.0,754.0 626.3,750.0 694.7,749.4 719.5,752.2 760.0,753.1 822.0,754.7 853.2,753.1 890.4,749.4 915.3,751.0 946.3,756.2 1008.4,754.7 1100.0,754.7 1168.3,754.7 1171.4,760.9 1176.0,754.7 1224.2,756.2 1301.9,761.5 1444.7,763.4" stroke="#e07a3a" stroke-width="1.2"/>
<polyline points="131.0,681.7 151.0,681.7 225.6,683.9 269.0,682.6 334.0,683.2 353.0,682.6 362.2,667.7 374.7,664.6 430.6,667.7 446.0,672.4 458.6,672.4 486.6,673.9 528.5,677.0 533.0,667.7 545.6,663.0 657.4,664.0 688.4,660.9 760.0,660.9 791.0,660.0 806.6,663.0 847.0,660.9 878.0,667.7 946.3,669.3 955.7,659.0 977.4,657.8 1100.0,659.0 1208.7,656.8 1255.3,656.8 1317.4,660.0 1364.0,667.7 1410.6,673.9 1444.7,675.5" stroke="#e8505a" stroke-width="1.2"/>
<polyline points="131.0,667.7 460.0,669.0 533.0,667.7 657.4,666.1 780.0,663.0 1100.0,662.1 1317.4,660.0 1364.0,663.0 1444.7,665.2" stroke="#b03c8c" stroke-width="1.6"/>
<polyline points="131.0,669.3 182.0,670.2 269.0,670.8 334.0,674.5 343.6,675.5 354.5,672.4 357.6,683.2 362.2,692.5 384.0,696.3 408.8,698.8 430.6,698.1 436.8,689.4 446.0,678.6 455.5,673.9 477.3,669.3 528.5,668.3 536.3,691.0 542.5,694.7 582.9,694.7 641.9,691.9 663.6,692.5 694.7,687.9 735.0,688.8 755.2,687.3 791.0,686.3 822.0,684.8 845.4,687.0 853.2,680.1 871.8,667.7 899.8,663.0 930.8,660.0 946.3,660.0 954.0,683.2 961.9,684.8 1039.5,686.3 1255.3,685.7 1317.4,687.0 1326.7,677.0 1348.4,668.3 1379.5,667.0 1410.6,667.7 1444.7,670.2" stroke="#3a4cc0" stroke-width="1.1"/>
<polyline points="130.5,256.4 354.5,256.4 354.5,323.4 435.0,323.4 435.0,256.4 530.0,256.4 530.0,323.4 851.6,323.4 851.6,256.4 946.3,256.4 946.3,323.4 1321.0,323.4 1321.0,256.4 1427.3,256.4 1427.3,830.0" stroke="#c45a60" stroke-width="3"/>
<polyline points="130.9,337.2 135.5,335.7 143.3,335.0 148.0,330.0 154.0,330.0 160.0,328.0 169.7,327.0 213.0,324.0 228.7,322.6 250.0,320.0 297.0,319.5 301.7,318.0 308.0,318.0 312.0,306.0 317.0,306.0 322.5,287.5 328.0,287.5 333.7,267.3 340.0,267.3 344.0,258.0 352.3,256.5 354.5,246.0 362.0,246.0 367.0,242.5 374.0,242.5 377.8,251.8 385.5,251.8 388.6,267.3 394.8,267.3 399.5,282.0 405.7,282.0 410.4,298.4 416.6,298.4 421.0,316.4 427.5,317.0 432.0,336.3 438.3,337.0 443.0,342.0 449.3,341.9 454.0,334.0 460.0,334.0 464.8,325.7 471.0,325.7 476.6,315.5 482.0,315.5 486.6,301.5 492.8,301.5 497.5,293.7 505.0,293.7 510.0,276.6 517.0,258.0 522.3,256.5 528.5,247.0 531.6,237.0 537.8,237.0 542.5,226.3 550.0,225.4 553.0,222.3 561.0,221.4 564.0,218.3 570.4,218.3 575.0,244.0 582.9,244.0 587.5,252.4 595.3,255.5 614.0,255.0 620.0,258.6 624.8,258.6 629.4,249.3 648.0,250.2 654.0,252.4 669.8,253.4 674.5,258.0 679.0,258.0 683.8,241.0 690.0,241.0 694.7,227.0 702.4,227.0 705.5,219.2 713.3,219.2 718.0,213.6 733.5,212.0 739.7,194.3 746.0,194.3 750.6,180.4 758.3,179.8 761.4,171.7 767.6,171.7 772.4,180.4 778.6,180.4 783.3,189.7 789.5,189.7 792.6,201.2 799.8,201.2 804.0,296.8 811.2,296.8 815.3,314.0 822.0,313.3 833.0,312.4 837.6,323.9 843.9,323.9 848.5,329.4 854.7,330.0 859.4,327.0 865.6,326.3 870.2,319.5 877.4,319.5 881.7,310.8 888.9,310.8 893.0,306.1 899.8,306.1 904.4,300.9 910.6,300.0 915.3,279.8 921.5,279.1 926.0,273.0 932.4,273.0 937.0,265.8 943.2,265.2 946.3,249.3 954.0,248.7 958.8,228.5 965.0,228.5 968.7,216.0 975.8,216.0 980.5,209.9 997.6,211.4 1002.2,220.0 1008.4,220.0 1011.5,225.4 1019.3,225.4 1022.4,230.0 1030.2,230.7 1034.8,241.9 1042.0,241.9 1045.7,256.5 1052.0,256.5 1056.6,264.2 1073.7,264.8 1079.9,267.3 1086.0,266.7 1090.7,264.2 1095.4,264.2 1100.0,268.0 1109.3,268.9 1110.9,275.7 1117.0,275.7 1121.7,288.4 1129.5,289.0 1134.2,291.2 1138.8,290.6 1143.5,287.5 1151.2,288.0 1155.9,292.2 1160.6,292.2 1165.2,301.5 1173.0,302.0 1176.0,304.6 1183.9,304.6 1187.0,309.3 1193.2,309.3 1197.8,312.4 1205.6,312.4 1209.3,300.0 1216.5,300.0 1221.1,292.2 1227.3,292.2 1230.4,288.4 1238.2,288.4 1241.3,276.0 1248.4,276.0 1252.2,272.0 1260.0,272.0 1263.0,279.0 1270.8,279.8 1273.9,285.3 1281.7,286.0 1285.7,296.8 1292.5,297.5 1296.3,310.8 1303.4,311.4 1307.5,321.7 1314.3,322.6 1319.0,325.7 1325.2,326.3 1329.8,331.0 1337.6,331.0 1342.2,329.4 1356.2,329.4 1362.4,335.7 1370.2,336.3 1373.3,342.5 1381.0,342.5 1384.2,350.6 1392.0,351.2 1395.6,357.4 1401.2,357.4 1405.9,377.6 1412.1,377.6 1416.1,391.6 1424.5,392.2 1428.6,400.9 1435.4,400.9 1440.0,403.4 1444.7,403.4" stroke="#8e2a3a" stroke-width="1.1"/>
</g>
<line x1="1427" y1="830" x2="1444.7" y2="830" stroke="#c45a60" stroke-width="2"/>
<line x1="755.5" y1="103" x2="755.5" y2="849" stroke="#111" stroke-width="1.2"/>
<circle cx="755.5" cy="687.3" r="5.3" fill="none" stroke="#4150c8" stroke-width="2.6"/>
<line x1="750" y1="687.3" x2="761" y2="687.3" stroke="#3347c8" stroke-width="1"/>
<rect x="737.5" y="849.5" width="36" height="17" fill="#fff" stroke="#888" stroke-width="1"/>
<text x="755.5" y="861.5" text-anchor="middle" class="tip">14:55</text>
<rect x="130.5" y="875.3" width="1313.0" height="59.700000000000045" fill="#f3f3f3"/>
<line x1="126.5" y1="935.5" x2="1443.5" y2="935.5" stroke="#8c8c8c" stroke-width="1"/>
<line x1="130.5" y1="929.5" x2="1443.5" y2="929.5" stroke="#d4d4d4" stroke-width="1"/>
<line x1="130.5" y1="923.5" x2="1443.5" y2="923.5" stroke="#d4d4d4" stroke-width="1"/>
<line x1="130.5" y1="917.5" x2="1443.5" y2="917.5" stroke="#d4d4d4" stroke-width="1"/>
<line x1="130.5" y1="911.5" x2="1443.5" y2="911.5" stroke="#d4d4d4" stroke-width="1"/>
<line x1="126.5" y1="905.5" x2="1443.5" y2="905.5" stroke="#8c8c8c" stroke-width="1"/>
<line x1="130.5" y1="899.5" x2="1443.5" y2="899.5" stroke="#d4d4d4" stroke-width="1"/>
<line x1="130.5" y1="893.5" x2="1443.5" y2="893.5" stroke="#d4d4d4" stroke-width="1"/>
<line x1="130.5" y1="887.5" x2="1443.5" y2="887.5" stroke="#d4d4d4" stroke-width="1"/>
<line x1="130.5" y1="881.5" x2="1443.5" y2="881.5" stroke="#d4d4d4" stroke-width="1"/>
<line x1="126.5" y1="875.5" x2="1443.5" y2="875.5" stroke="#8c8c8c" stroke-width="1"/>
<line x1="131.5" y1="875.3" x2="131.5" y2="939" stroke="#8a8a8a" stroke-width="1"/>
<text x="130.8" y="950.5" text-anchor="middle" class="nx">00</text>
<line x1="185.5" y1="875.3" x2="185.5" y2="939" stroke="#8a8a8a" stroke-width="1"/>
<text x="185.6" y="950.5" text-anchor="middle" class="nx">01</text>
<line x1="240.5" y1="875.3" x2="240.5" y2="939" stroke="#8a8a8a" stroke-width="1"/>
<text x="240.3" y="950.5" text-anchor="middle" class="nx">02</text>
<line x1="295.5" y1="875.3" x2="295.5" y2="939" stroke="#8a8a8a" stroke-width="1"/>
<text x="295.1" y="950.5" text-anchor="middle" class="nx">03</text>
<line x1="350.5" y1="875.3" x2="350.5" y2="939" stroke="#8a8a8a" stroke-width="1"/>
<text x="349.8" y="950.5" text-anchor="middle" class="nx">04</text>
<line x1="404.5" y1="875.3" x2="404.5" y2="939" stroke="#8a8a8a" stroke-width="1"/>
<text x="404.6" y="950.5" text-anchor="middle" class="nx">05</text>
<line x1="459.5" y1="875.3" x2="459.5" y2="939" stroke="#8a8a8a" stroke-width="1"/>
<text x="459.3" y="950.5" text-anchor="middle" class="nx">06</text>
<line x1="514.5" y1="875.3" x2="514.5" y2="939" stroke="#8a8a8a" stroke-width="1"/>
<text x="514.0" y="950.5" text-anchor="middle" class="nx">07</text>
<line x1="569.5" y1="875.3" x2="569.5" y2="939" stroke="#8a8a8a" stroke-width="1"/>
<text x="568.8" y="950.5" text-anchor="middle" class="nx">08</text>
<line x1="623.5" y1="875.3" x2="623.5" y2="939" stroke="#8a8a8a" stroke-width="1"/>
<text x="623.5" y="950.5" text-anchor="middle" class="nx">09</text>
<line x1="678.5" y1="875.3" x2="678.5" y2="939" stroke="#8a8a8a" stroke-width="1"/>
<text x="678.3" y="950.5" text-anchor="middle" class="nx">10</text>
<line x1="733.5" y1="875.3" x2="733.5" y2="939" stroke="#8a8a8a" stroke-width="1"/>
<text x="733.0" y="950.5" text-anchor="middle" class="nx">11</text>
<line x1="788.5" y1="875.3" x2="788.5" y2="939" stroke="#8a8a8a" stroke-width="1"/>
<text x="787.8" y="950.5" text-anchor="middle" class="nx">12</text>
<line x1="842.5" y1="875.3" x2="842.5" y2="939" stroke="#8a8a8a" stroke-width="1"/>
<text x="842.5" y="950.5" text-anchor="middle" class="nx">13</text>
<line x1="897.5" y1="875.3" x2="897.5" y2="939" stroke="#8a8a8a" stroke-width="1"/>
<text x="897.3" y="950.5" text-anchor="middle" class="nx">14</text>
<line x1="952.5" y1="875.3" x2="952.5" y2="939" stroke="#8a8a8a" stroke-width="1"/>
<text x="952.0" y="950.5" text-anchor="middle" class="nx">15</text>
<line x1="1007.5" y1="875.3" x2="1007.5" y2="939" stroke="#8a8a8a" stroke-width="1"/>
<text x="1006.8" y="950.5" text-anchor="middle" class="nx">16</text>
<line x1="1061.5" y1="875.3" x2="1061.5" y2="939" stroke="#8a8a8a" stroke-width="1"/>
<text x="1061.5" y="950.5" text-anchor="middle" class="nx">17</text>
<line x1="1116.5" y1="875.3" x2="1116.5" y2="939" stroke="#8a8a8a" stroke-width="1"/>
<text x="1116.3" y="950.5" text-anchor="middle" class="nx">18</text>
<line x1="1171.5" y1="875.3" x2="1171.5" y2="939" stroke="#8a8a8a" stroke-width="1"/>
<text x="1171.0" y="950.5" text-anchor="middle" class="nx">19</text>
<line x1="1226.5" y1="875.3" x2="1226.5" y2="939" stroke="#8a8a8a" stroke-width="1"/>
<text x="1225.8" y="950.5" text-anchor="middle" class="nx">20</text>
<line x1="1280.5" y1="875.3" x2="1280.5" y2="939" stroke="#8a8a8a" stroke-width="1"/>
<text x="1280.5" y="950.5" text-anchor="middle" class="nx">21</text>
<line x1="1335.5" y1="875.3" x2="1335.5" y2="939" stroke="#8a8a8a" stroke-width="1"/>
<text x="1335.3" y="950.5" text-anchor="middle" class="nx">22</text>
<line x1="1390.5" y1="875.3" x2="1390.5" y2="939" stroke="#8a8a8a" stroke-width="1"/>
<text x="1390.0" y="950.5" text-anchor="middle" class="nx">23</text>
<line x1="1445.5" y1="875.3" x2="1445.5" y2="939" stroke="#8a8a8a" stroke-width="1"/>
<text x="1444.8" y="950.5" text-anchor="middle" class="nx">24</text>
<text x="125" y="879.3" text-anchor="end" class="nx">100</text>
<text x="125" y="909.7" text-anchor="end" class="nx">50</text>
<text x="125" y="938.8" text-anchor="end" class="nx">0</text>
<rect x="791.3" y="875.3" width="328.2" height="59.700000000000045" fill="url(#sel)" opacity="0.8"/>
<line x1="130.5" y1="935" x2="1443.5" y2="935" stroke="#bcbcbc" stroke-width="2"/>
<rect x="130.5" y="906" width="1313.0" height="4" fill="#d6f3ec" opacity="0.9"/>
<rect x="130.5" y="922" width="1313.0" height="6" fill="#f3dde5" opacity="0.85"/>
<rect x="130.5" y="928" width="1313.0" height="6" fill="#f3eedb" opacity="0.8"/>
<polyline points="130.8,911.3 240.3,911.3 295.1,912.5 404.6,911.8 568.8,911.8 601.6,910.5 623.5,909.8 787.8,909.8 897.3,909.3 1006.8,910.0 1116.3,912.5 1225.8,913.0 1444.8,913.0" fill="none" stroke="#3e8a55" stroke-width="2"/>
<polyline points="130.8,921.4 459.3,922.0 623.5,922.6 787.8,922.0 1116.3,921.5 1444.8,922.5" fill="none" stroke="#a8387a" stroke-width="2.2"/>
<polyline points="240.3,921.5 243.0,925.0 289.6,925.0 300.5,921.8 349.8,921.5 352.5,925.0 399.1,925.0 410.0,921.8 421.0,921.5" fill="none" stroke="#4a5ad0" stroke-width="1.2"/>
<polyline points="722.1,922 723.7,924.5 755.0,924.5 757.7,922" fill="none" stroke="#4a5ad0" stroke-width="1.2"/>
<polyline points="848.0,922 849.7,924.5 875.4,924.5 878.1,922" fill="none" stroke="#4a5ad0" stroke-width="1.2"/>
<polyline points="897.3,922 898.9,924.5 979.4,924.5 982.2,922" fill="none" stroke="#4a5ad0" stroke-width="1.2"/>
<polyline points="1006.8,922 1008.4,924.5 1105.4,924.5 1108.1,922" fill="none" stroke="#4a5ad0" stroke-width="1.2"/>
<polyline points="1225.8,922 1227.4,924.5 1280.5,924.5 1283.3,922" fill="none" stroke="#4a5ad0" stroke-width="1.2"/>
<polyline points="130.8,931.8 404.6,932.5 623.5,931.0 787.8,927.8 842.5,927.0 869.9,929.0 1006.8,928.0 1116.3,929.5 1225.8,931.0 1444.8,932.0" fill="none" stroke="#8a8a3a" stroke-width="1.6"/>
<polyline points="130.8,932.5 787.8,931.0 897.3,930.0 1116.3,931.0 1444.8,933.0" fill="none" stroke="#e09a50" stroke-width="1" opacity="0.8"/>
<rect x="791.3" y="875.3" width="328.2" height="59.700000000000045" fill="none" stroke="#333" stroke-width="1.5"/>
<line x1="1443.5" y1="875.3" x2="1443.5" y2="935" stroke="#111" stroke-width="2" stroke-dasharray="3,2"/>
<line x1="553.3" y1="179.2" x2="351.9" y2="132.7" stroke="#d3151c" stroke-width="3" stroke-linecap="round"/>
<path d="M340.2,130.0 L355.3,126.8 L350.9,132.5 L352.4,139.5 Z" fill="#d3151c"/>
<line x1="564.1" y1="176.0" x2="563.2" y2="150.2" stroke="#d3151c" stroke-width="3" stroke-linecap="round"/>
<path d="M562.8,138.2 L569.8,152.0 L563.2,149.2 L556.8,152.4 Z" fill="#d3151c"/>
<line x1="575.0" y1="177.3" x2="732.0" y2="132.0" stroke="#d3151c" stroke-width="3" stroke-linecap="round"/>
<path d="M743.5,128.7 L731.8,138.8 L732.9,131.7 L728.2,126.3 Z" fill="#d3151c"/>
<line x1="1042.6" y1="174.1" x2="867.0" y2="115.6" stroke="#d3151c" stroke-width="3" stroke-linecap="round"/>
<path d="M855.6,111.8 L870.9,110.1 L866.0,115.3 L866.8,122.4 Z" fill="#d3151c"/>
<line x1="1174.5" y1="164.5" x2="1160.5" y2="125.5" stroke="#d3151c" stroke-width="3" stroke-linecap="round"/>
<path d="M1156.5,114.2 L1167.3,125.2 L1160.2,124.6 L1155.1,129.6 Z" fill="#d3151c"/>
<line x1="239.6" y1="353.7" x2="267.5" y2="330.8" stroke="#d3151c" stroke-width="3" stroke-linecap="round"/>
<path d="M276.8,323.2 L270.1,337.1 L268.3,330.2 L261.9,327.0 Z" fill="#d3151c"/>
<line x1="689.0" y1="390.4" x2="495.9" y2="267.5" stroke="#d3151c" stroke-width="3" stroke-linecap="round"/>
<path d="M485.8,261.1 L501.1,263.1 L495.1,267.0 L494.1,274.1 Z" fill="#d3151c"/>
<line x1="698.2" y1="391.7" x2="703.5" y2="344.2" stroke="#d3151c" stroke-width="3" stroke-linecap="round"/>
<path d="M704.8,332.3 L709.7,346.9 L703.6,343.2 L696.8,345.5 Z" fill="#d3151c"/>
<line x1="707.4" y1="391.7" x2="873.1" y2="271.4" stroke="#d3151c" stroke-width="3" stroke-linecap="round"/>
<path d="M882.8,264.3 L875.3,277.8 L873.9,270.8 L867.7,267.3 Z" fill="#d3151c"/>
<line x1="975.5" y1="510.6" x2="932.8" y2="533.2" stroke="#d3151c" stroke-width="3" stroke-linecap="round"/>
<path d="M922.2,538.8 L931.5,526.5 L931.9,533.7 L937.6,538.0 Z" fill="#d3151c"/>
<line x1="1491.0" y1="529.3" x2="1451.6" y2="528.7" stroke="#d3151c" stroke-width="3" stroke-linecap="round"/>
<path d="M1439.6,528.5 L1453.7,522.2 L1450.6,528.7 L1453.5,535.2 Z" fill="#d3151c"/>
<line x1="217.9" y1="617.2" x2="258.3" y2="660.0" stroke="#d3151c" stroke-width="3" stroke-linecap="round"/>
<path d="M266.5,668.7 L252.2,663.0 L259.0,660.7 L261.6,654.1 Z" fill="#d3151c"/>
<line x1="558.0" y1="614.3" x2="580.6" y2="681.8" stroke="#d3151c" stroke-width="3" stroke-linecap="round"/>
<path d="M584.4,693.2 L573.8,682.0 L580.9,682.8 L586.1,677.9 Z" fill="#d3151c"/>
<line x1="904.4" y1="614.3" x2="924.4" y2="659.2" stroke="#d3151c" stroke-width="3" stroke-linecap="round"/>
<path d="M929.3,670.2 L917.7,660.1 L924.8,660.2 L929.5,654.8 Z" fill="#d3151c"/>
<line x1="1065.4" y1="803.3" x2="1015.6" y2="763.5" stroke="#d3151c" stroke-width="3" stroke-linecap="round"/>
<path d="M1006.2,756.0 L1021.2,759.7 L1014.8,762.9 L1013.1,769.8 Z" fill="#d3151c"/>
<text x="479.2" y="190.8" class="ann">Occupancy sensors being triggered</text>
<text x="1048.2" y="177.3" class="ann">Heat-recovery extractor fan</text>
<text x="1048.2" y="195.9" class="ann">being switched on/off</text>
<text x="138" y="370.0" class="ann">Carbon Dioxide trace</text>
<text x="627.7" y="404.8" class="ann">Carbon Dioxide set-point automatically</text>
<text x="627.7" y="423.4" class="ann">changed by HeatingSave depending upon</text>
<text x="627.7" y="442.0" class="ann">air quality</text>
<text x="928.2" y="506.6" class="ann">Humidity traces</text>
<text x="1495.6" y="534.8" class="ann">Carbon Dioxide</text>
<text x="1495.6" y="553.4" class="ann">Scale</text>
<text x="158.6" y="609.6" class="ann">External Carbon Dioxide</text>
<text x="158.6" y="628.2" class="ann">level</text>
<text x="481.3" y="591.5" class="ann">Blue trace of the air temperature</text>
<text x="481.3" y="610.1" class="ann">entering the room</text>
<text x="846.3" y="591.5" class="ann">Red trace of air temperature</text>
<text x="846.3" y="610.1" class="ann">leaving the room</text>
<text x="900.3" y="820.5" class="ann">External temperature in 2 places (high level, low level)</text>
</svg>
<div class="hdr" style="top:75.5px"><span class="tri"></span><span class="ht">Equipment</span><span class="ro">rollover to add...</span></div>
<div class="row dis" style="top:103.5px"><span class="sw" style="background:#9a3a5a"></span><span class="ic"><svg width="10" height="14" viewBox="0 0 10 14"><circle cx="5" cy="5" r="3.8" fill="none" stroke="#666" stroke-width="1"/><path d="M3.5,9.5h3M3.5,11h3M3.5,12.5h3" stroke="#666" stroke-width="1"/></svg></span><span class="nm">Room 7 AHU Above…</span><span class="vl"><span style='position:relative;top:-1.5px'>-</span></span><span class="x">×</span></div>
<div class="row dis" style="top:118.6px"><span class="sw" style="background:#9a3a5a"></span><span class="ic"><svg width="11" height="14" viewBox="0 0 11 14"><rect x="2" y="0.5" width="7" height="5" fill="none" stroke="#444" stroke-width="1"/><circle cx="5.5" cy="4" r="1.6" fill="#222"/><path d="M2,8 q3.5,3 7,0 M1,10.5 q4.5,3.5 9,0" fill="none" stroke="#444" stroke-width="1"/></svg></span><span class="nm">Room H7, PIR, Zi…</span><span class="vl"><span style='position:relative;top:-1.5px'>-</span></span><span class="x">×</span></div>
<div class="row dis" style="top:133.5px"><span class="sw" style="background:#9a3a5a"></span><span class="ic"><svg width="10" height="14" viewBox="0 0 10 14"><circle cx="5" cy="5" r="3.8" fill="none" stroke="#666" stroke-width="1"/><path d="M3.5,9.5h3M3.5,11h3M3.5,12.5h3" stroke="#666" stroke-width="1"/></svg></span><span class="nm">Room 7 - Green 1…</span><span class="vl"><span style='position:relative;top:-1.5px'>-</span></span><span class="x">×</span></div>
<div class="hdr" style="top:148.5px"><span class="tri"></span><span class="ht">Sensors</span><span class="ro">rollover to add...</span></div>
<div class="row" style="top:171.2px"><span class="sw" style="background:#6f6a1e"></span><span class="ic"><svg width="14" height="15" viewBox="0 0 14 15" style="position:absolute;left:0;top:0"><g fill="none" stroke="#6a6a6a" stroke-width="0.9"><circle cx="2" cy="4.2" r="1"/><circle cx="5" cy="8.2" r="1"/><path d="M5.6,3 L1.4,9.4"/><path d="M7.2,8.3V2.3H9.2a1.5,1.5 0 0 1 0,3H7.2M9.2,5.3L10.8,8.3"/><path d="M7.2,9.3V15M10.8,9.3V15M7.2,12.1H10.8"/></g></svg></span><span class="nm">Room 7 Humidit…</span><span class="vl">42.44%</span><span class="x">×</span></div>
<div class="row" style="top:186.2px"><span class="sw" style="background:#2aa58e"></span><span class="ic"><svg width="14" height="15" viewBox="0 0 14 15" style="position:absolute;left:0;top:0"><g fill="none" stroke="#6a6a6a" stroke-width="0.9"><circle cx="2" cy="4.2" r="1"/><circle cx="5" cy="8.2" r="1"/><path d="M5.6,3 L1.4,9.4"/><path d="M7.2,8.3V2.3H9.2a1.5,1.5 0 0 1 0,3H7.2M9.2,5.3L10.8,8.3"/><path d="M7.2,9.3V15M10.8,9.3V15M7.2,12.1H10.8"/></g></svg></span><span class="nm">Room 7 Humidit…</span><span class="vl">43.75%</span><span class="x">×</span></div>
<div class="row" style="top:201.2px"><span class="sw" style="background:#f07a2a"></span><span class="ic"><svg width="10" height="14" viewBox="0 0 10 14"><rect x="3.5" y="0.5" width="3" height="9" rx="1.5" fill="#fff" stroke="#9a2a30" stroke-width="1"/><rect x="4.3" y="4" width="1.4" height="6" fill="#b02a30"/><circle cx="5" cy="11" r="2.7" fill="#b02a30"/></svg></span><span class="nm">Room 7 Tempera…</span><span class="vl">24.34°C</span><span class="x">×</span></div>
<div class="row" style="top:216.2px"><span class="sw" style="background:#9a30d8"></span><span class="ic"><svg width="10" height="14" viewBox="0 0 10 14"><rect x="3.5" y="0.5" width="3" height="9" rx="1.5" fill="#fff" stroke="#9a2a30" stroke-width="1"/><rect x="4.3" y="4" width="1.4" height="6" fill="#b02a30"/><circle cx="5" cy="11" r="2.7" fill="#b02a30"/></svg></span><span class="nm">Room 7 Tempera…</span><span class="vl">24.45°C</span><span class="x">×</span></div>
<div class="row" style="top:231.2px"><span class="sw" style="background:#b8101e"></span><span class="ic"><span class="co2i">CO<span style="font-size:7px;position:relative;top:4px;left:-1px">2</span></span></span><span class="nm">Room 7 Co2 Vir…</span><span class="vl">1,724ppm</span><span class="x">×</span></div>
<div class="row hl" style="top:246.2px"><span class="sw" style="background:#3a5ae0"></span><span class="ic"><svg width="10" height="14" viewBox="0 0 10 14"><rect x="3.5" y="0.5" width="3" height="9" rx="1.5" fill="#fff" stroke="#9a2a30" stroke-width="1"/><rect x="4.3" y="4" width="1.4" height="6" fill="#b02a30"/><circle cx="5" cy="11" r="2.7" fill="#b02a30"/></svg></span><span class="nm">AHU Air In</span><span class="vl">21.08°C</span><span class="x">×</span></div>
<div class="row" style="top:261.2px"><span class="sw" style="background:#ee4040"></span><span class="ic"><svg width="10" height="14" viewBox="0 0 10 14"><rect x="3.5" y="0.5" width="3" height="9" rx="1.5" fill="#fff" stroke="#9a2a30" stroke-width="1"/><rect x="4.3" y="4" width="1.4" height="6" fill="#b02a30"/><circle cx="5" cy="11" r="2.7" fill="#b02a30"/></svg></span><span class="nm">AHU Air Out</span><span class="vl">25.07°C</span><span class="x">×</span></div>
<div class="row" style="top:276.2px"><span class="sw" style="background:#20b030"></span><span class="ic"><svg width="10" height="14" viewBox="0 0 10 14"><rect x="3.5" y="0.5" width="3" height="9" rx="1.5" fill="#fff" stroke="#9a2a30" stroke-width="1"/><rect x="4.3" y="4" width="1.4" height="6" fill="#b02a30"/><circle cx="5" cy="11" r="2.7" fill="#b02a30"/></svg></span><span class="nm">Outside Temper…</span><span class="vl">11.83°C</span><span class="x">×</span></div>
<div class="row" style="top:291.2px"><span class="sw" style="background:#e07a2a"></span><span class="ic"><svg width="10" height="14" viewBox="0 0 10 14"><rect x="3.5" y="0.5" width="3" height="9" rx="1.5" fill="#fff" stroke="#9a2a30" stroke-width="1"/><rect x="4.3" y="4" width="1.4" height="6" fill="#b02a30"/><circle cx="5" cy="11" r="2.7" fill="#b02a30"/></svg></span><span class="nm">Outside temper…</span><span class="vl">11.30°C</span><span class="x">×</span></div>
<div class="row" style="top:306.2px"><span class="sw" style="background:#b8101e"></span><span class="ic"><span class="co2i">CO<span style="font-size:7px;position:relative;top:4px;left:-1px">2</span></span></span><span class="nm">Co2 Outside</span><span class="vl">1,304ppm</span><span class="x">×</span></div>
<div class="hdr" style="top:320.4px"><span class="tri"></span><span class="ht">Zones</span><span class="ro">rollover to add...</span></div>
<div class="row" style="top:341.3px"><span class="sw" style="background:#d05050"></span><span class="ic"><svg width="12" height="13" viewBox="0 0 12 13"><path d="M6,0.5 L11.5,5.5 V12.5 H0.5 V5.5 Z" fill="#555"/><rect x="2.5" y="7" width="2" height="2" fill="#fff"/><rect x="5" y="7" width="2" height="2" fill="#fff"/><rect x="7.5" y="7" width="2" height="2" fill="#fff"/><rect x="2.5" y="10" width="2" height="2" fill="#fff"/><rect x="5" y="10" width="2" height="2" fill="#fff"/><rect x="7.5" y="10" width="2" height="2" fill="#fff"/></svg></span><span class="nm">Room H7, Carbo…</span><span class="vl">1,340ppm</span><span class="x">×</span></div>
<div class="hdr" style="top:357px"><span class="tri"></span><span class="ht">Meters</span><span class="ro">rollover to add...</span></div>
<div style="position:absolute;left:1455.2px;top:388px;width:213px;height:26.5px;border:1px solid #c8c8c8;border-right:none;background:#fff">
 <div style="position:absolute;left:0;top:0;width:80px;height:24.5px;background:linear-gradient(#f3f7f9,#d8e3ea);border-right:1px solid #c8d2d8;font-weight:bold;font-size:14px;color:#2f4d5c;line-height:24px;padding-left:8.5px">Day Total</div>
 <div style="position:absolute;left:91px;top:0;font-size:14px;color:#333;line-height:24px">Stacked area</div>
 <div style="position:absolute;left:199px;top:0;font-size:10px;color:#222;line-height:24px">▼</div>
</div>
<div class="mt" style="top:420.5px">Electric : 0.0000 kWh</div>
<div class="mt" style="top:437.5px">Solar PV : 0.0000 kWh</div>
<div class="mt" style="top:455.3px">Gas : 0.0000</div>
<div class="sel" style="left:1527.4px;top:454.5px;width:47px">kWh <span style="font-size:9px">▼</span></div>
<div class="mt" style="top:473.3px">Water : 0.0000</div>
<div class="sel" style="left:1537.3px;top:473px;width:37px">m³ <span style="font-size:9px">▼</span></div>
</body></html>
